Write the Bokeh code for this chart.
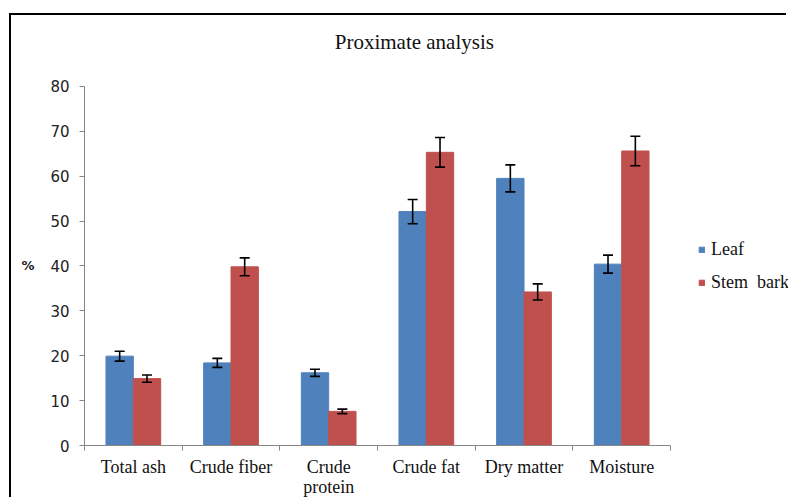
from bokeh.plotting import figure
from bokeh.models import (Range1d, LinearAxis, FixedTicker, Label,
                          ColumnDataSource, Whisker, TeeHead, Legend, LegendItem)
from bokeh.transform import dodge
from bokeh.embed import file_html
from bokeh.resources import INLINE

# ---- data ----
categories = ["Total ash", "Crude fiber", "Crude protein", "Crude fat", "Dry matter", "Moisture"]
category_labels = ["Total ash", "Crude fiber", "Crude\nprotein", "Crude fat", "Dry matter", "Moisture"]
leaf = [19.9, 18.4, 16.2, 52.1, 59.5, 40.4]
leaf_err = [1.1, 1.0, 0.8, 2.7, 3.0, 2.0]
stem_bark = [14.9, 39.8, 7.6, 65.3, 34.2, 65.6]
stem_bark_err = [0.8, 2.0, 0.5, 3.3, 1.8, 3.3]
y_ticks = [0, 10, 20, 30, 40, 50, 60, 70, 80]
y_max = 80

LEAF_COLOR = "#4F81BD"
STEM_COLOR = "#C0504D"
AXIS_COLOR = "#868686"

n = len(categories)
pos = [i + 0.5 for i in range(n)]          # category centres
edges = [i for i in range(n + 1)]          # category boundaries

src = ColumnDataSource(dict(
    pos=pos,
    leaf=leaf,
    leaf_lo=[v - e for v, e in zip(leaf, leaf_err)],
    leaf_hi=[v + e for v, e in zip(leaf, leaf_err)],
    stem=stem_bark,
    stem_lo=[v - e for v, e in zip(stem_bark, stem_bark_err)],
    stem_hi=[v + e for v, e in zip(stem_bark, stem_bark_err)],
))

# The plot frame extends to the right/top so that the legend and title fit inside it;
# the axes are bounded to the data extent.
p = figure(width=777, height=484, x_range=Range1d(0, 7.208),
           y_range=Range1d(0, 95.78), output_backend="svg", toolbar_location=None,
           x_axis_location=None, y_axis_location=None,
           min_border_left=73, min_border_right=0, min_border_top=0, min_border_bottom=53)
p.styles = {"margin-left": "9px", "margin-top": "13px",
            "border-left": "2px solid black", "border-top": "2px solid black"}
p.outline_line_color = None
p.xgrid.visible = False
p.ygrid.visible = False

# title
p.add_layout(Label(x=3.404, y=89.84, text="Proximate  analysis", text_align="center",
                   text_baseline="alphabetic", text_font="Liberation Serif",
                   text_font_size="21px", text_color="#111111"))

# bars
w = 0.28
r_leaf = p.vbar(x=dodge("pos", -w / 2), top="leaf", width=w, source=src,
                fill_color=LEAF_COLOR, line_color=LEAF_COLOR)
r_stem = p.vbar(x=dodge("pos", w / 2), top="stem", width=w, source=src,
                fill_color=STEM_COLOR, line_color=STEM_COLOR)

for base_off, lo, hi in [(-w / 2, "leaf_lo", "leaf_hi"), (w / 2, "stem_lo", "stem_hi")]:
    wh = Whisker(base=dodge("pos", base_off), lower=lo, upper=hi, source=src,
                 line_color="black", line_width=1.6, level="overlay",
                 upper_head=TeeHead(size=10, line_color="black", line_width=1.6),
                 lower_head=TeeHead(size=10, line_color="black", line_width=1.6))
    p.add_layout(wh)

# y axis
yax = LinearAxis(ticker=FixedTicker(ticks=y_ticks), bounds=(0, y_max))
yax.axis_line_color = AXIS_COLOR
yax.major_tick_line_color = AXIS_COLOR
yax.major_tick_out = 5
yax.major_tick_in = 0
yax.minor_tick_line_color = None
yax.major_label_text_font = "DejaVu Sans"
yax.major_label_text_font_size = "15px"
yax.major_label_text_color = "#222222"
yax.major_label_standoff = 10
p.add_layout(yax, "left")

# "%" axis title, level with the 40 tick
ylab = LinearAxis(ticker=FixedTicker(ticks=[40]), bounds=(0, y_max))
ylab.axis_line_color = None
ylab.major_tick_line_color = None
ylab.major_tick_out = 0
ylab.major_tick_in = 0
ylab.minor_tick_line_color = None
ylab.major_label_overrides = {40: "%"}
ylab.major_label_text_font = "DejaVu Sans"
ylab.major_label_text_font_size = "13px"
ylab.major_label_text_font_style = "bold"
ylab.major_label_text_color = "#222222"
ylab.major_label_standoff = 13
p.add_layout(ylab, "left")

# x axis: labels at category centres, tick marks at category boundaries
xax = LinearAxis(ticker=FixedTicker(ticks=pos, minor_ticks=edges), bounds=(0, n))
xax.axis_line_color = AXIS_COLOR
xax.major_tick_line_color = None
xax.major_tick_out = 0
xax.major_tick_in = 0
xax.minor_tick_line_color = AXIS_COLOR
xax.minor_tick_out = 5
xax.minor_tick_in = 0
xax.major_label_overrides = {pv: lab for pv, lab in zip(pos, category_labels)}
xax.major_label_text_font = "Liberation Serif"
xax.major_label_text_font_size = "18px"
xax.major_label_text_color = "#111111"
xax.major_label_text_line_height = 1.0
xax.major_label_standoff = 6
p.add_layout(xax, "below")

# legend (right of the bars)
legend = Legend(items=[LegendItem(label="Leaf", renderers=[r_leaf]),
                       LegendItem(label="Stem  bark", renderers=[r_stem])],
                location=(614, 152), orientation="vertical")
legend.glyph_width = 7
legend.glyph_height = 7
legend.label_standoff = 6
legend.label_height = 22
legend.spacing = 11
legend.padding = 0
legend.margin = 0
legend.border_line_color = None
legend.background_fill_alpha = 0
legend.label_text_font = "Liberation Serif"
legend.label_text_font_size = "18px"
legend.label_text_color = "#111111"
p.add_layout(legend)

open("out.html", "w").write(file_html(p, INLINE))
